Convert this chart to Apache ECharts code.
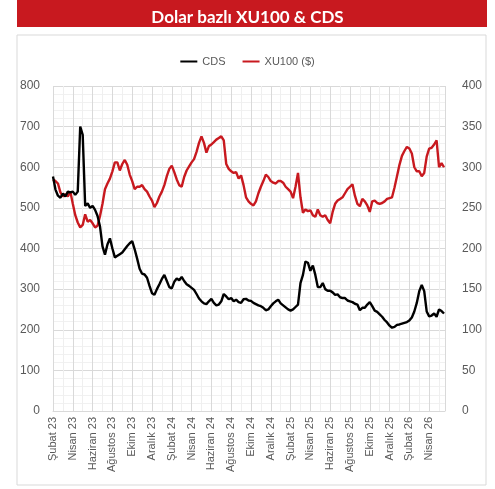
<!DOCTYPE html>
<html>
<head>
<meta charset="utf-8">
<script src="https://cdn.jsdelivr.net/npm/echarts@6/dist/echarts.min.js"></script>
<style>
html,body{margin:0;padding:0;background:#fff;}
#c{width:495px;height:489px;}
</style>
</head>
<body>
<div id="c"></div>
<script>
// Tick labels (every 2 months, starting Feb 2023)
const tickLabels = ['Şubat 23','Nisan 23','Haziran 23','Ağustos 23','Ekim 23','Aralık 23',
  'Şubat 24','Nisan 24','Haziran 24','Ağustos 24','Ekim 24','Aralık 24',
  'Şubat 25','Nisan 25','Haziran 25','Ağustos 25','Ekim 25','Aralık 25',
  'Şubat 26','Nisan 26'];
// Sampling step of the series, in months from the first tick (roughly weekly)
const STEP = 0.25;
// CDS (left axis)
const cds = [577,545,530,525,535,528,540,538,540,532,540,700,680,505,511,500,505,495,480,454,
  405,385,410,425,400,378,382,386,390,398,406,413,418,398,375,350,338,336,328,308,
  290,286,300,312,325,335,320,305,302,318,326,322,330,320,312,308,303,298,288,277,
  270,265,263,270,276,266,260,262,270,288,282,275,278,270,274,268,266,275,276,272,
  271,266,263,260,258,254,248,250,258,265,270,274,265,260,255,250,247,250,256,262,
  315,335,368,365,345,358,335,305,305,315,300,296,296,292,286,287,280,278,278,272,
  270,268,264,262,248,254,254,262,268,258,247,244,238,232,224,218,210,205,207,212,
  213,215,217,219,223,230,245,266,295,310,295,245,233,235,240,232,250,246,240];
// XU100 in USD (right axis)
const xu100 = [285,283,280,269,264,267,264,270,255,241,232,226,229,242,233,235,231,226,228,240,
  255,273,280,286,295,306,306,296,304,309,303,291,283,273,276,276,278,273,270,264,
  259,251,256,264,270,278,289,298,302,294,285,278,276,288,296,301,306,310,319,330,
  338,330,318,326,328,331,334,336,338,333,304,298,295,293,294,286,290,278,263,258,
  255,253,258,268,276,283,291,288,283,281,280,283,283,281,276,273,270,262,276,293,
  263,244,248,246,247,241,239,248,241,239,241,235,231,245,255,259,261,263,268,273,
  276,279,265,255,252,261,258,253,245,258,259,256,255,256,258,261,262,263,275,289,
  303,314,320,325,323,317,300,295,295,289,293,313,323,324,328,333,300,305,300];
const leftTicks = {min:0, max:800, interval:100};
const rightTicks = {min:0, max:400, interval:50};

const RED = '#C8191F';
const LABEL = '#595959';
const FONT = 'Liberation Sans';

const chart = echarts.init(document.getElementById('c'), null, {renderer:'canvas'});
chart.setOption({
  animation:false,
  backgroundColor:'#ffffff',
  graphic:[
    {type:'rect', z:-1, shape:{x:17, y:35, width:469, height:450}, style:{fill:'#fff', stroke:'#d9d9d9', lineWidth:1}},
    {type:'rect', z:0, shape:{x:17, y:0, width:470, height:27}, style:{fill:RED}}
  ],
  title:{
    text:'Dolar bazlı XU100 & CDS', left:'center', top:4,
    textStyle:{color:'#fff', fontFamily:'Lato', fontWeight:'bold', fontSize:17}
  },
  legend:{
    data:['CDS','XU100 ($)'], top:51, left:'center',
    icon:'rect', itemWidth:17, itemHeight:2, itemGap:17,
    textStyle:{color:LABEL, fontFamily:FONT, fontSize:11}
  },
  grid:{left:53, right:50, top:86, bottom:78, containLabel:false},
  xAxis:{
    type:'value', min:0, max:39.6, interval:2,
    axisLine:{show:true, lineStyle:{color:'#d9d9d9'}},
    axisTick:{show:false},
    minorTick:{show:false, splitNumber:2},
    splitLine:{show:true, lineStyle:{color:'#d9d9d9', width:1}},
    minorSplitLine:{show:true, lineStyle:{color:'#efefef', width:1}},
    axisLabel:{
      rotate:90, margin:6, color:LABEL, fontFamily:FONT, fontSize:11,
      showMaxLabel:false,
      formatter:function(v){ const k=v/2; return (Math.abs(k-Math.round(k))<1e-6 && tickLabels[Math.round(k)]) ? tickLabels[Math.round(k)] : ''; }
    }
  },
  yAxis:[
    {type:'value', min:leftTicks.min, max:leftTicks.max, interval:leftTicks.interval,
     axisLine:{show:false}, axisTick:{show:false},
     splitLine:{show:true, lineStyle:{color:'#d9d9d9'}},
     minorTick:{show:false, splitNumber:5},
     minorSplitLine:{show:true, lineStyle:{color:'#f1f1f1'}},
     axisLabel:{color:LABEL, fontFamily:FONT, fontSize:12, margin:13}},
    {type:'value', min:rightTicks.min, max:rightTicks.max, interval:rightTicks.interval,
     position:'right',
     axisLine:{show:false}, axisTick:{show:false}, splitLine:{show:false},
     axisLabel:{color:LABEL, fontFamily:FONT, fontSize:12, margin:17}}
  ],
  series:[
    {name:'XU100 ($)', type:'line', yAxisIndex:1, showSymbol:false, symbol:'none',
     color:RED, lineStyle:{color:RED, width:2.4}, z:2,
     data: xu100.map(function(v,i){return [i*STEP, v];})},
    {name:'CDS', type:'line', yAxisIndex:0, showSymbol:false, symbol:'none',
     color:'#000', lineStyle:{color:'#000', width:2.4}, z:3,
     data: cds.map(function(v,i){return [i*STEP, v];})}
  ]
});
</script>
</body>
</html>
